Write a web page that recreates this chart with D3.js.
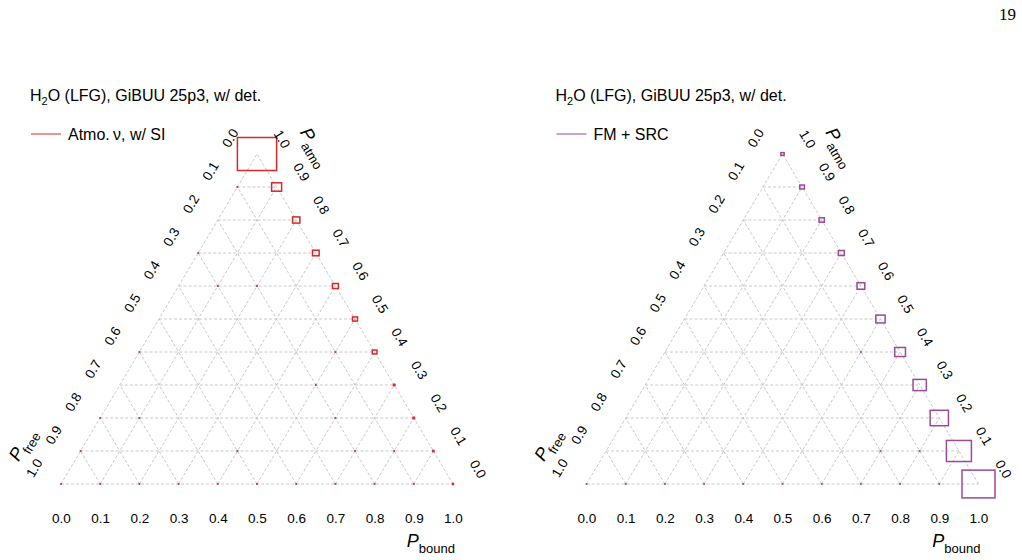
<!DOCTYPE html>
<html>
<head>
<meta charset="utf-8">
<script src="https://cdn.jsdelivr.net/npm/d3@7"></script>
<style>
  body { margin: 0; background: #fff; }
  svg { display: block; font-family: "Liberation Sans", Arial, sans-serif; }
</style>
</head>
<body>
<svg id="chart" width="1022" height="560"></svg>
<script>
// tick values of all three ternary axes
const tickValues = [0.0, 0.1, 0.2, 0.3, 0.4, 0.5, 0.6, 0.7, 0.8, 0.9, 1.0];
const gridLevels = [0.0, 0.1, 0.2, 0.3, 0.4, 0.5, 0.6, 0.7, 0.8, 0.9];

// bin contents, [P_atmo, P_bound, content] (P_free = 1 - atmo - bound)
const atmoSiBins = [
  [1.0, 0.0, 100],
  [0.9, 0.0, 0.15], [0.9, 0.1, 6.5],
  [0.8, 0.2, 3.5],
  [0.7, 0.0, 0.15], [0.7, 0.3, 2.9],
  [0.6, 0.1, 0.15], [0.6, 0.2, 0.15], [0.6, 0.4, 2.3],
  [0.5, 0.5, 1.6],
  [0.4, 0.0, 0.15], [0.4, 0.5, 0.15], [0.4, 0.6, 1.4],
  [0.3, 0.5, 0.15], [0.3, 0.7, 0.55],
  [0.2, 0.0, 0.15], [0.2, 0.1, 0.15], [0.2, 0.6, 0.15], [0.2, 0.8, 0.55],
  [0.1, 0.0, 0.15], [0.1, 0.4, 0.15], [0.1, 0.7, 0.15], [0.1, 0.8, 0.2], [0.1, 0.9, 0.45],
  [0.0, 0.0, 0.15], [0.0, 0.1, 0.15], [0.0, 0.2, 0.15], [0.0, 0.3, 0.15], [0.0, 0.4, 0.15],
  [0.0, 0.5, 0.15], [0.0, 0.6, 0.15], [0.0, 0.7, 0.15], [0.0, 0.8, 0.15], [0.0, 0.9, 0.15],
  [0.0, 1.0, 0.4]
];

const fmSrcBins = [
  [1.0, 0.0, 0.7],
  [0.9, 0.1, 1.4],
  [0.8, 0.2, 1.8],
  [0.7, 0.3, 2.3],
  [0.6, 0.4, 3.9],
  [0.5, 0.5, 5.6],
  [0.4, 0.5, 0.15], [0.4, 0.6, 7.5],
  [0.3, 0.7, 11.5],
  [0.2, 0.8, 21.8],
  [0.1, 0.7, 0.15], [0.1, 0.8, 0.15], [0.1, 0.9, 40.7],
  [0.0, 0.0, 0.15], [0.0, 0.1, 0.15], [0.0, 0.2, 0.15], [0.0, 0.3, 0.15], [0.0, 0.4, 0.15],
  [0.0, 0.5, 0.15], [0.0, 0.6, 0.15], [0.0, 0.7, 0.15], [0.0, 0.8, 0.15], [0.0, 0.9, 0.15],
  [0.0, 1.0, 70.9]
];

const titleText = "(LFG), GiBUU 25p3, w/ det.";
const maxContent = 100;

const panels = [
  { x0: 61, x1: 453, legend: "Atmo.\u2009\u03bd, w/ SI", color: "#d42a2a", bins: atmoSiBins },
  { x0: 586.5, x1: 978.5, legend: "FM + SRC", color: "#9b4a95", bins: fmSrcBins }
];

const yBottom = 484, yTop = 154;
const svg = d3.select("#chart");

// page number
svg.append("text")
  .attr("x", 1016).attr("y", 20)
  .attr("text-anchor", "end")
  .attr("font-family", "'Liberation Serif', 'DejaVu Serif', serif")
  .attr("font-size", 17)
  .text("19");

panels.forEach(drawPanel);

function drawPanel(p) {
  const g = svg.append("g");
  const xScale = d3.scaleLinear().domain([0, 1]).range([p.x0, p.x1]);
  const yScale = d3.scaleLinear().domain([0, 1]).range([yBottom, yTop]);
  const proj = (atmo, bound) => [xScale(bound + atmo / 2), yScale(atmo)];

  const cellW = (p.x1 - p.x0) / 10;
  const cellH = (yBottom - yTop) / 10;
  const side = d3.scaleSqrt().domain([0, maxContent]).range([0, cellW]);

  // title + legend
  const title = g.append("text")
    .attr("x", p.x0 - 31).attr("y", 101)
    .attr("font-size", 16);
  title.append("tspan").text("H");
  title.append("tspan").attr("font-size", 11).attr("dy", 4).text("2");
  title.append("tspan").attr("dy", -4).text("O " + titleText);

  g.append("line")
    .attr("x1", p.x0 - 30).attr("x2", p.x0)
    .attr("y1", 134).attr("y2", 134)
    .attr("stroke", p.color).attr("stroke-width", 1);
  g.append("text")
    .attr("x", p.x0 + 7).attr("y", 140)
    .attr("font-size", 16)
    .text(p.legend);

  // dashed grid, three directions
  const line = d3.line();
  const gridLines = [];
  gridLevels.forEach(v => {
    gridLines.push([proj(v, 0), proj(v, 1 - v)]);          // const atmo
    gridLines.push([proj(0, v), proj(1 - v, v)]);          // const bound
    gridLines.push([proj(0, 1 - v), proj(1 - v, 0)]);      // const free
  });
  g.append("g").selectAll("path")
    .data(gridLines)
    .enter().append("path")
    .attr("d", line)
    .attr("fill", "none")
    .attr("stroke", "#c8c8c8")
    .attr("stroke-width", 1)
    .attr("stroke-dasharray", "3,2");

  // boxes
  g.append("g").selectAll("rect")
    .data(p.bins)
    .enter().append("rect")
    .each(function (d) {
      const [cx, cy] = proj(d[0], d[1]);
      let w = side(d[2]);
      const small = w < 3;
      if (small) w = Math.max(w, 1.8);
      const h = small ? w : w * cellH / cellW;
      d3.select(this)
        .attr("x", cx - w / 2).attr("y", cy - h / 2)
        .attr("width", w).attr("height", h)
        .attr("fill", small ? p.color : "none")
        .attr("stroke", small ? "none" : p.color)
        .attr("stroke-width", 1.5);
    });

  // bottom axis: P_bound
  const axis = g.append("g")
    .attr("transform", "translate(0," + yBottom + ")")
    .call(d3.axisBottom(xScale)
      .tickValues(tickValues)
      .tickFormat(d3.format(".1f"))
      .tickSize(0)
      .tickPadding(29));
  axis.select(".domain").remove();
  axis.selectAll("text")
    .attr("font-size", 13.5)
    .attr("font-family", "'Liberation Sans', Arial, sans-serif")
    .attr("fill", "#000");

  // edge geometry
  const top = proj(1, 0), bl = proj(0, 0), br = proj(0, 1);
  const len = Math.hypot(top[0] - bl[0], top[1] - bl[1]);
  const ang = Math.atan2(bl[1] - top[1], top[0] - bl[0]) * 180 / Math.PI;
  const nL = [-(bl[1] - top[1]) / len, -(top[0] - bl[0]) / len];   // outward left
  const nR = [-nL[0], nL[1]];                                        // outward right
  const uL = [(top[0] - bl[0]) / len, (top[1] - bl[1]) / len];      // up along left edge
  const dR = [(br[0] - top[0]) / len, (br[1] - top[1]) / len];      // down along right edge

  // left axis: P_free
  g.append("g").selectAll("text")
    .data(tickValues)
    .enter().append("text")
    .attr("transform", d => {
      const [x, y] = proj(1 - d, 0);
      return "translate(" + (x + nL[0] * 31) + "," + (y + nL[1] * 31) + ") rotate(" + (-ang) + ")";
    })
    .attr("text-anchor", "middle")
    .attr("dominant-baseline", "central")
    .attr("font-size", 13.5)
    .text(d3.format(".1f"));

  // right axis: P_atmo
  g.append("g").selectAll("text")
    .data(tickValues)
    .enter().append("text")
    .attr("transform", d => {
      const [x, y] = proj(d, 1 - d);
      return "translate(" + (x + nR[0] * 29) + "," + (y + nR[1] * 29) + ") rotate(" + ang + ")";
    })
    .attr("text-anchor", "middle")
    .attr("dominant-baseline", "central")
    .attr("font-size", 13.5)
    .text(d3.format(".1f"));

  // axis titles
  function axisTitle(x, y, rot, sub, anchor) {
    const t = g.append("text")
      .attr("transform", "translate(" + x + "," + y + ") rotate(" + rot + ")")
      .attr("text-anchor", anchor || "start");
    t.append("tspan").attr("font-size", 18).attr("font-style", "italic").text("P");
    t.append("tspan").attr("font-size", 13).attr("dy", 6).text(sub);
  }
  axisTitle(top[0] + nR[0] * 47.6 + dR[0] * 3, top[1] + nR[1] * 47.6 + dR[1] * 3, ang, "atmo");
  axisTitle(bl[0] + nL[0] * 47.6 - uL[0] * 3, bl[1] + nL[1] * 47.6 - uL[1] * 3, -ang, "free");
  axisTitle(p.x1 + 2, 547, 0, "bound", "end");
}
</script>
</body>
</html>
